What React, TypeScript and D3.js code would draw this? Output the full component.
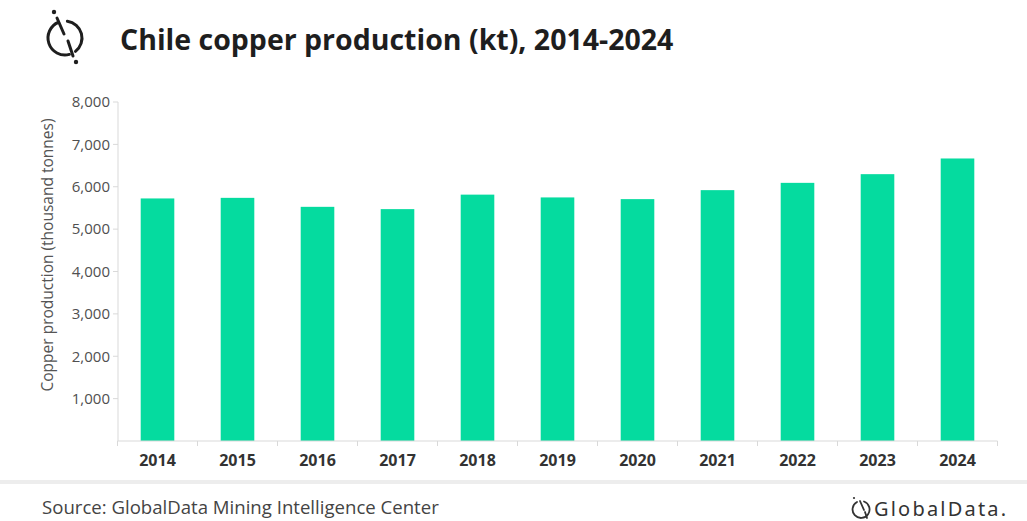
import React from "react";
import * as d3 from "d3";

const years = ["2014", "2015", "2016", "2017", "2018", "2019", "2020", "2021", "2022", "2023", "2024"];
const production = [5724, 5738, 5526, 5472, 5814, 5748, 5708, 5920, 6092, 6297, 6667];
const yTicks = [1000, 2000, 3000, 4000, 5000, 6000, 7000, 8000];

const W = 1027;
const H = 521;
const baseY = 441;
const topY = 102;

export default function App() {
  const bandStart = 117.5;
  const bandEnd = 997.5;
  const x = d3.scaleBand<string>().domain(years).range([bandStart, bandEnd]).paddingInner(0.58).paddingOuter(0.29);
  const y = d3.scaleLinear().domain([0, 8000]).range([baseY, topY]);
  const fmt = d3.format(",");
  const step = x.step();

  // logo arcs
  const cx = 65, cy = 38, r = 17;
  const arc = (a0: number, a1: number) => {
    const p = d3.path();
    p.arc(cx, cy, r, (a0 * Math.PI) / 180, (a1 * Math.PI) / 180, a1 < a0);
    return p.toString();
  };

  return (
    <svg width={W} height={H} style={{ position: "absolute", left: 0, top: 0, background: "#fff" }} fontFamily="'Open Sans', 'Noto Sans', sans-serif">
      <rect x={0} y={0} width={W} height={H} fill="#fff" />
      {/* logo top-left */}
      <g stroke="#1e1e1e" strokeWidth={3} fill="none" strokeLinecap="round">
        <path d={arc(-112, -285)} />
        <path d={arc(-82, 52)} />
        <path d="M 57 18 L 64 34 M 68 41 L 73 56" />
      </g>
      <circle cx={54} cy={12} r={2.2} fill="#1e1e1e" />
      <circle cx={76} cy={62} r={2.2} fill="#1e1e1e" />
      <text x={120} y={50} fontSize={28.5} fontWeight={700} fill="#1e1e1e">Chile copper production (kt), 2014-2024</text>

      {/* y axis */}
      <line x1={118} x2={118} y1={topY} y2={baseY} stroke="#d9d9d9" strokeWidth={1} />
      {yTicks.map((t) => (
        <g key={t}>
          <line x1={113} x2={118} y1={y(t)} y2={y(t)} stroke="#d9d9d9" />
          <text x={110} y={y(t)} dy="0.35em" textAnchor="end" fontSize={15} fill="#505050">{fmt(t)}</text>
        </g>
      ))}
      <text transform={`translate(53,255) rotate(-90)`} textAnchor="middle" fontSize={15.5} fill="#555">Copper production (thousand tonnes)</text>

      {/* bars */}
      {years.map((yr, i) => (
        <rect key={yr} x={x(yr)} y={y(production[i])} width={x.bandwidth()} height={baseY - y(production[i])} fill="#05db9f" />
      ))}

      {/* x axis */}
      <line x1={bandStart} x2={bandStart + step * years.length} y1={baseY} y2={baseY} stroke="#d9d9d9" />
      {d3.range(years.length + 1).map((i) => (
        <line key={i} x1={bandStart + i * step} x2={bandStart + i * step} y1={baseY} y2={baseY + 5} stroke="#d9d9d9" />
      ))}
      {years.map((yr) => (
        <text key={yr} x={(x(yr) as number) + x.bandwidth() / 2} y={466} textAnchor="middle" fontSize={16} fontWeight={700} fill="#333">{yr}</text>
      ))}

      {/* footer */}
      <rect x={0} y={480} width={W} height={4} fill="#ededed" />
      <text x={42} y={514} fontSize={18.6} fill="#444">Source: GlobalData Mining Intelligence Center</text>
      <g stroke="#333" strokeWidth={1.8} fill="none" strokeLinecap="round">
        <path d="M 857 502 A 8.5 8.5 0 1 0 864 501.5" />
        <path d="M 860 501 L 864 510 M 865 512 L 867 518" />
      </g>
      <circle cx={854} cy={498} r={1.1} fill="#333" />
      <text x={874} y={516} fontSize={20} fill="#333" fontFamily="'Noto Sans', sans-serif" letterSpacing={2.2}>GlobalData.</text>
    </svg>
  );
}
